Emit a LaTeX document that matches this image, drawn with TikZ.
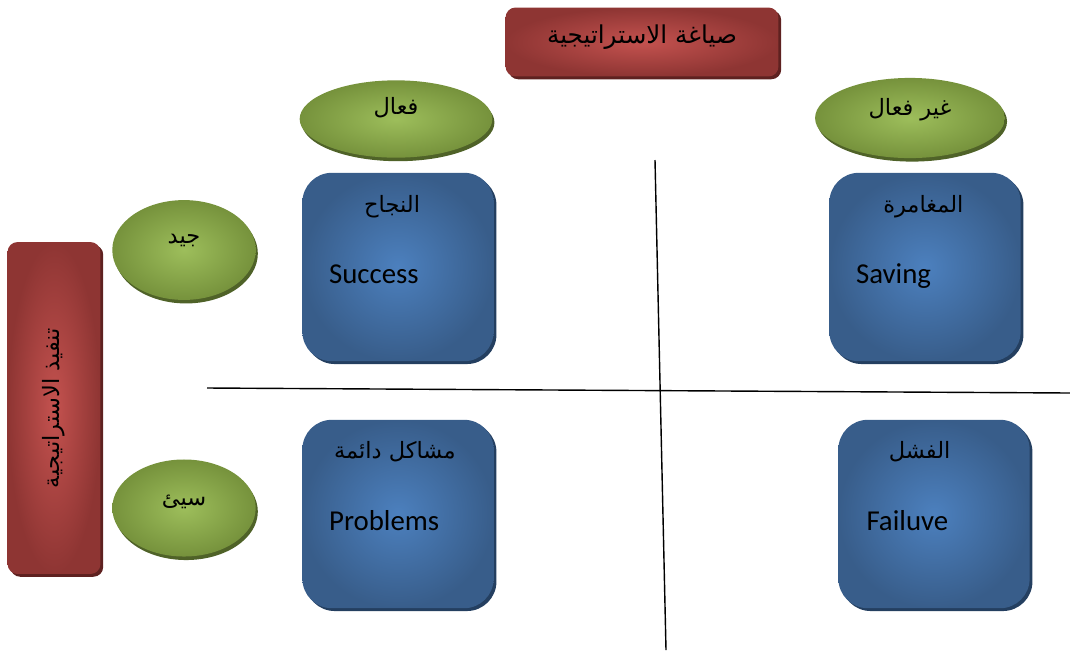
\documentclass[tikz,border=0pt]{standalone}
\usepackage{fontspec}
\setmainfont{Carlito}
\newfontfamily\arabicfont[Script=Arabic]{DejaVu Sans}
\TeXXeTstate=1
\usetikzlibrary{shadows,calc,shapes.geometric}

\definecolor{redIn}{HTML}{C4524F}
\definecolor{redOut}{HTML}{8E3533}
\definecolor{redSh}{HTML}{5E2120}
\definecolor{grnIn}{HTML}{9DBE5B}
\definecolor{grnOut}{HTML}{76923C}
\definecolor{grnSh}{HTML}{4F6228}
\definecolor{bluIn}{HTML}{4C80BE}
\definecolor{bluOut}{HTML}{385D8A}
\definecolor{bluSh}{HTML}{243F60}

\tikzset{
  x=0.025cm, y=-0.025cm,
  redbox/.style={rounded corners=7pt, inner color=redIn, outer color=redOut,
    general shadow={fill=redSh, shadow xshift=2pt, shadow yshift=-2pt},
    inner sep=0pt},
  oval/.style={ellipse, inner color=grnIn, outer color=grnOut,
    general shadow={fill=grnSh, shadow xshift=1.5pt, shadow yshift=-2.5pt},
    inner sep=0pt},
  bluebox/.style={rounded corners=21pt, inner color=bluIn, outer color=bluOut,
    general shadow={fill=bluSh, shadow xshift=2pt, shadow yshift=-2pt},
    minimum width=136pt, minimum height=134pt, inner sep=0pt},
  artext/.style={font=\arabicfont\fontsize{16pt}{18pt}\selectfont, inner sep=0pt},
  entext/.style={font=\fontsize{20.5pt}{24pt}\selectfont, anchor=base west, inner sep=0pt},
  axis/.style={line width=1pt, black}
}

\begin{document}
\begin{tikzpicture}
\useasboundingbox (0,0) rectangle (1070,653);

% dividing axes
\coordinate (vtop) at (655,160);
\coordinate (vbot) at (666,650);
\coordinate (hleft) at (207,388);
\coordinate (hright) at (1070,393);
\draw[axis] (vtop) -- (vbot);
\draw[axis] (hleft) -- (hright);

% headers
\node[redbox, minimum width=194pt, minimum height=49pt] (form) at (642,42) {};
\node[artext, font=\arabicfont\fontsize{17.5pt}{20pt}\selectfont] (formlbl) at (642,37)
  {\beginR صياغة الاستراتيجية\endR};
\node[redbox, minimum width=66pt, minimum height=236pt] (exec) at (54,408) {};
\node[artext, rotate=90] (execlbl) at (exec.center) {\beginR تنفيذ الاستراتيجية\endR};

% ovals
\node[oval, minimum width=137pt, minimum height=55pt] (eff) at (396,119) {};
\node[artext] (efflbl) at (396,108) {\beginR فعال\endR};
\node[oval, minimum width=135pt, minimum height=57pt] (ineff) at (910,118) {};
\node[artext] (inefflbl) at (910,110) {\beginR غير فعال\endR};
\node[oval, minimum width=102pt, minimum height=71pt] (good) at (184,250) {};
\node[artext] (goodlbl) at (184,240) {\beginR جيد\endR};
\node[oval, minimum width=102pt, minimum height=69pt] (bad) at (184,508) {};
\node[artext] (badlbl) at (184,502) {\beginR سيئ\endR};

% outcome boxes
\node[bluebox] (succ) at (398,267) {};
\node[bluebox] (save) at (925,267) {};
\node[bluebox] (prob) at (398,514) {};
\node[bluebox] (fail) at (934,514) {};

\node[artext] (succAr) at ([xshift=64pt, yshift=-24pt]succ.north west) {\beginR النجاح\endR};
\node[entext] (succEn) at ([xshift=19pt, yshift=-79pt]succ.north west) {Success};

\node[artext] (saveAr) at ([xshift=67pt, yshift=-24pt]save.north west) {\beginR المغامرة\endR};
\node[entext] (saveEn) at ([xshift=19pt, yshift=-79pt]save.north west) {Saving};

\node[artext] (probAr) at ([xshift=66pt, yshift=-23pt]prob.north west) {\beginR مشاكل دائمة\endR};
\node[entext] (probEn) at ([xshift=19pt, yshift=-79pt]prob.north west) {Problems};

\node[artext] (failAr) at ([xshift=58pt, yshift=-23pt]fail.north west) {\beginR الفشل\endR};
\node[entext] (failEn) at ([xshift=20pt, yshift=-79pt]fail.north west) {Failuve};
\end{tikzpicture}
\end{document}
